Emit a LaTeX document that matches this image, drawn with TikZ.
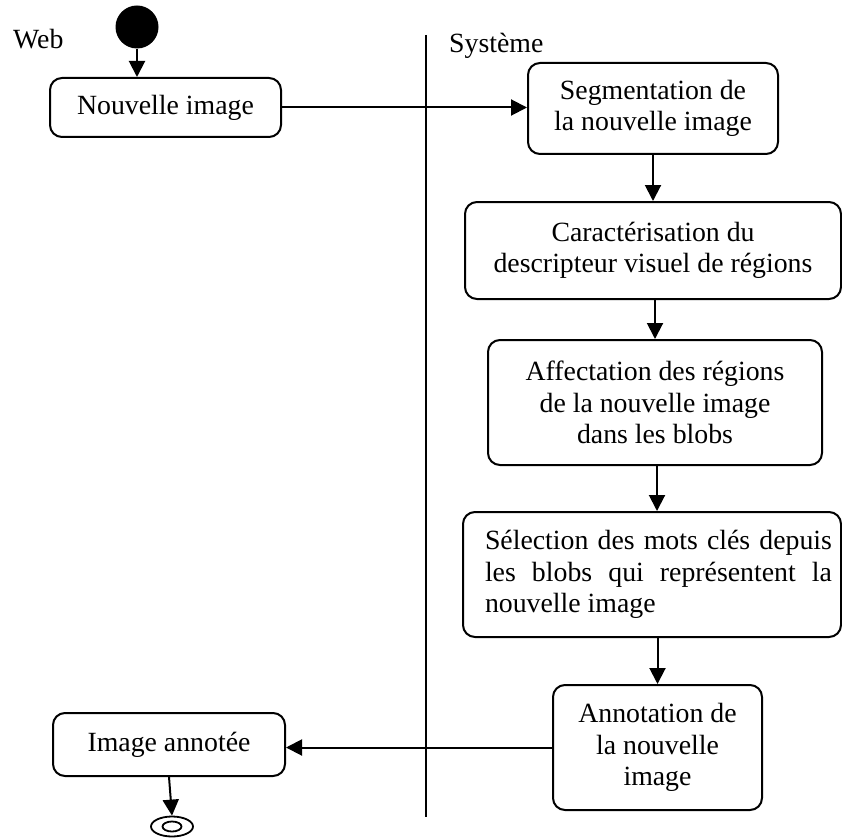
\documentclass[tikz,border=0pt]{standalone}
\usepackage{fontspec}
\setmainfont{Liberation Serif}
\usetikzlibrary{arrows.meta,shapes.geometric}
\begin{document}
\begin{tikzpicture}[x=1pt,y=-1pt,
  every node/.style={font=\fontsize{27.8}{31.5}\selectfont},
  actbox/.style={draw,line width=2pt,rounded corners=12pt,inner sep=0pt,align=center},
  flow/.style={line width=2pt,-{Triangle[length=16pt,width=16pt]}},
  lane/.style={line width=2pt}]
\useasboundingbox (0,0) rectangle (842,837);

% swimlane titles and separator
\node[anchor=base west,inner sep=0pt] (web) at (13,49) {Web};
\node[anchor=base west,inner sep=0pt] (sys) at (449,53) {Système};
\coordinate (laneTop) at (426,35);
\coordinate (laneBot) at (426,817);
\draw[lane] (laneTop) -- (laneBot);

% initial and final states
\node[circle,fill=black,minimum size=43pt,inner sep=0pt] (start) at (137,27) {};
\node[ellipse,draw,line width=1.8pt,minimum width=42pt,minimum height=20pt,inner sep=0pt] (end) at (172,826.5) {};
\draw[line width=1.8pt] (end.center) ellipse [x radius=9.5pt, y radius=5pt];

% activities
\node[actbox,minimum width=231pt,minimum height=59pt] (nouv) at (165.5,107.5) {Nouvelle image};
\node[actbox,minimum width=232pt,minimum height=63pt] (img) at (169,744.5) {Image annotée};
\node[actbox,minimum width=250pt,minimum height=91pt] (seg) at (653,108.5)
  {Segmentation de\\la nouvelle image};
\node[actbox,minimum width=376pt,minimum height=97pt] (car) at (653,250.5)
  {Caractérisation du\\descripteur visuel de régions};
\node[actbox,minimum width=334pt,minimum height=125pt] (aff) at (655,402.5)
  {Affectation des régions\\de la nouvelle image\\dans les blobs};
\node[actbox,minimum width=378pt,minimum height=125pt] (sel) at (652,574.5)
  {\hspace*{13pt}\parbox{347pt}{\fontsize{27.8}{31.5}\selectfont
    \makebox[347pt][s]{Sélection des mots clés depuis}\\
    \makebox[347pt][s]{les blobs qui représentent la}\\
    nouvelle image}};
\node[actbox,minimum width=209pt,minimum height=125pt] (ann) at (657.5,747.5)
  {Annotation de\\la nouvelle\\image};

% transitions
\draw[flow] (start.south) -- (start.south |- nouv.north);
\draw[flow] (nouv.east) -- (nouv.east -| seg.west);
\draw[flow] (seg.south) -- (seg.south |- car.north);
\draw[flow] (aff.north |- car.south) -- (aff.north);
\draw[flow] ([xshift=2pt]aff.south) -- ([xshift=2pt]aff.south |- sel.north);
\draw[flow] (ann.north |- sel.south) -- (ann.north);
\draw[flow] (ann.west) -- (ann.west -| img.east);
\draw[flow] (img.south) -- (end.north);
\end{tikzpicture}
\end{document}
